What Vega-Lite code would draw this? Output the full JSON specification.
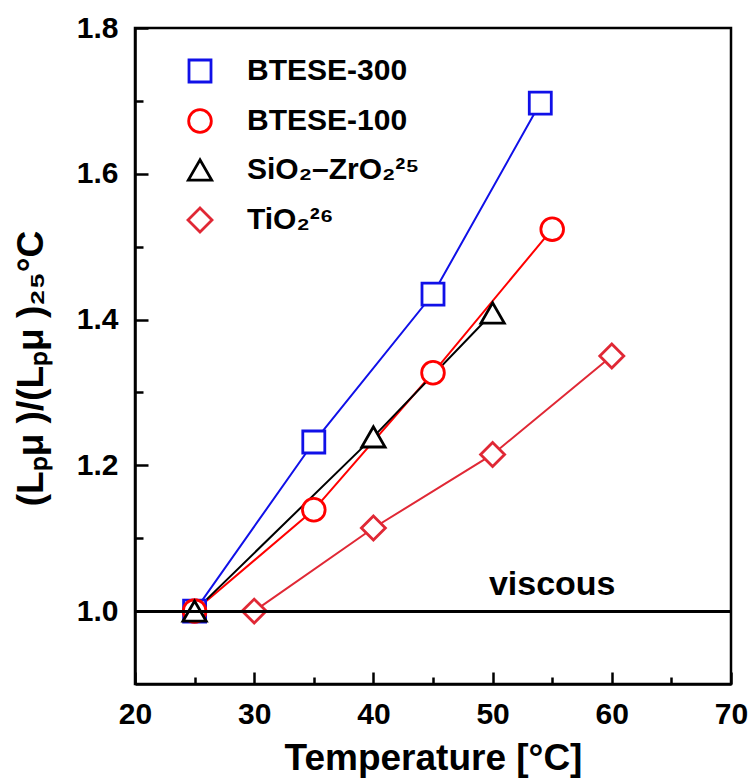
{
  "$schema": "https://vega.github.io/schema/vega-lite/v6.json",
  "width": 596,
  "height": 656,
  "autosize": {"type": "none"},
  "padding": {"left": 135, "top": 28, "right": 20, "bottom": 96},
  "background": "white",
  "config": {
    "font": "Liberation Sans",
    "view": {"stroke": "black", "strokeWidth": 2.5},
    "axis": {
      "domainColor": "black", "domainWidth": 2.5,
      "tickColor": "black", "tickWidth": 2.5,
      "labelFont": "Liberation Sans", "labelFontWeight": "bold", "labelFontSize": 30, "labelColor": "black",
      "titleFont": "Liberation Sans", "titleFontWeight": "bold", "titleColor": "black",
      "grid": false
    },
    "legend": {
      "labelFont": "Liberation Sans", "labelFontWeight": "bold", "labelFontSize": 30, "labelColor": "black",
      "labelLimit": 400,
      "symbolFillColor": "white", "symbolStrokeWidth": 2.8, "symbolSize": 620
    }
  },
  "data": {
    "values": [
      {"series": "BTESE-300", "T": 25, "r": 1.0},
      {"series": "BTESE-300", "T": 35, "r": 1.232},
      {"series": "BTESE-300", "T": 45, "r": 1.435},
      {"series": "BTESE-300", "T": 54, "r": 1.697},
      {"series": "BTESE-100", "T": 25, "r": 1.0},
      {"series": "BTESE-100", "T": 35, "r": 1.139},
      {"series": "BTESE-100", "T": 45, "r": 1.327},
      {"series": "BTESE-100", "T": 55, "r": 1.524},
      {"series": "SiO₂–ZrO₂²⁵", "T": 25, "r": 1.0},
      {"series": "SiO₂–ZrO₂²⁵", "T": 40, "r": 1.239},
      {"series": "SiO₂–ZrO₂²⁵", "T": 50, "r": 1.409},
      {"series": "TiO₂²⁶", "T": 30, "r": 1.0},
      {"series": "TiO₂²⁶", "T": 40, "r": 1.114},
      {"series": "TiO₂²⁶", "T": 50, "r": 1.215},
      {"series": "TiO₂²⁶", "T": 60, "r": 1.35}
    ]
  },
  "encoding": {
    "x": {
      "field": "T", "type": "quantitative",
      "scale": {"domain": [20, 70], "nice": false, "zero": false},
      "axis": {
        "title": "Temperature [°C]", "titleFontSize": 37, "titlePadding": 6,
        "values": [20, 25, 30, 35, 40, 45, 50, 55, 60, 65, 70],
        "labelExpr": "datum.value % 10 === 0 ? datum.label : ''",
        "tickSize": {"condition": {"test": "datum.value % 10 === 0", "value": -12}, "value": -7},
        "labelPadding": 27, "labelFlush": false, "labelOverlap": false
      }
    },
    "y": {
      "field": "r", "type": "quantitative",
      "scale": {"domain": [0.9, 1.8], "nice": false, "zero": false},
      "axis": {
        "title": "(Lₚμ )/(Lₚμ )₂₅°C", "titleFontSize": 37, "titlePadding": 26, "titleY": 340,
        "values": [1.0, 1.1, 1.2, 1.3, 1.4, 1.5, 1.6, 1.7, 1.8],
        "labelExpr": "round(datum.value * 10) % 2 === 0 ? format(datum.value, '.1f') : ''",
        "tickSize": {"condition": {"test": "round(datum.value * 10) % 2 === 0", "value": -13}, "value": -8},
        "labelPadding": 30, "labelFlush": false, "labelOverlap": false
      }
    },
    "color": {
      "field": "series", "type": "nominal",
      "scale": {"domain": ["BTESE-300", "BTESE-100", "SiO₂–ZrO₂²⁵", "TiO₂²⁶"], "range": ["#1010e8", "#ff0000", "#000000", "#e02835"]},
      "legend": {"title": null, "orient": "none", "legendX": 50, "legendY": 28, "rowPadding": 16, "labelOffset": 32, "padding": 0, "symbolSize": 620, "symbolStrokeWidth": 2.8}
    }
  },
  "layer": [
    {
      "mark": {"type": "line", "strokeWidth": 2}
    },
    {
      "mark": {"type": "point", "filled": false, "fill": "white", "fillOpacity": 1, "strokeWidth": 2.8, "opacity": 1},
      "encoding": {
        "shape": {
          "field": "series", "type": "nominal",
          "scale": {"domain": ["BTESE-300", "BTESE-100", "SiO₂–ZrO₂²⁵", "TiO₂²⁶"], "range": ["square", "circle", "triangle-up", "diamond"]}
        },
        "size": {
          "field": "series", "type": "nominal",
          "scale": {"domain": ["BTESE-300", "BTESE-100", "SiO₂–ZrO₂²⁵", "TiO₂²⁶"], "range": [484, 576, 841, 900]},
          "legend": null
        }
      }
    },
    {
      "mark": {"type": "rule", "color": "black", "strokeWidth": 2.2},
      "encoding": {"y": {"datum": 1.0}, "x": null, "color": null}
    },
    {
      "data": {"values": [{"label": "viscous", "T": 55, "r": 1.022}]},
      "mark": {"type": "text", "font": "Liberation Sans", "fontWeight": "bold", "fontSize": 34, "align": "center", "baseline": "alphabetic", "color": "black"},
      "encoding": {"text": {"field": "label"}, "color": null}
    }
  ]
}
